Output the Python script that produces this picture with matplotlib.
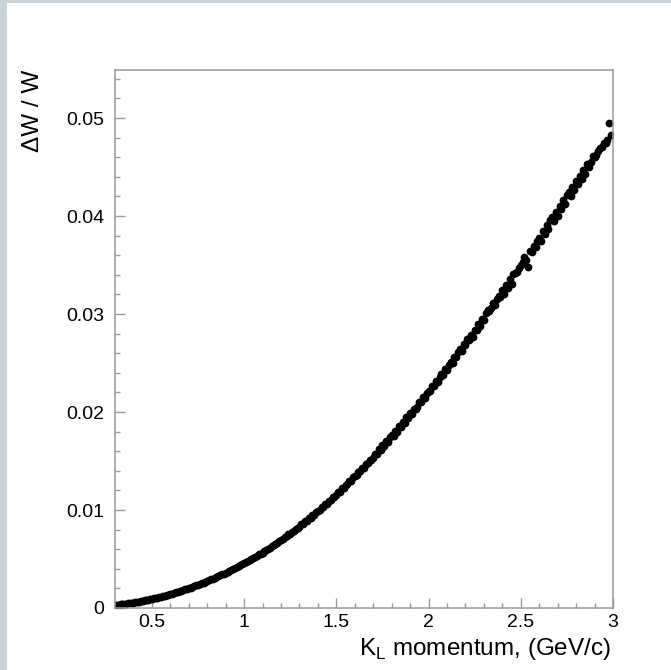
import matplotlib
matplotlib.use("Agg")
import matplotlib.pyplot as plt
from matplotlib.patches import Rectangle
from matplotlib.ticker import FixedLocator, MultipleLocator

# K_L momentum (GeV/c) and relative width dW/W
momentum = [
    0.30, 0.31, 0.32, 0.33, 0.34, 0.35, 0.36, 0.37, 0.38, 0.39,
    0.40, 0.41, 0.42, 0.43, 0.44, 0.45, 0.46, 0.47, 0.48, 0.49,
    0.50, 0.51, 0.52, 0.53, 0.54, 0.55, 0.56, 0.57, 0.58, 0.59,
    0.60, 0.61, 0.62, 0.63, 0.64, 0.65, 0.66, 0.67, 0.68, 0.69,
    0.70, 0.71, 0.72, 0.73, 0.74, 0.75, 0.76, 0.77, 0.78, 0.79,
    0.80, 0.81, 0.82, 0.83, 0.84, 0.85, 0.86, 0.87, 0.88, 0.89,
    0.90, 0.91, 0.92, 0.93, 0.94, 0.95, 0.96, 0.97, 0.98, 0.99,
    1.00, 1.01, 1.02, 1.03, 1.04, 1.05, 1.06, 1.07, 1.08, 1.09,
    1.10, 1.11, 1.12, 1.13, 1.14, 1.15, 1.16, 1.17, 1.18, 1.19,
    1.20, 1.21, 1.22, 1.23, 1.24, 1.25, 1.26, 1.27, 1.28, 1.29,
    1.30, 1.31, 1.32, 1.33, 1.34, 1.35, 1.36, 1.37, 1.38, 1.39,
    1.40, 1.41, 1.42, 1.43, 1.44, 1.45, 1.46, 1.47, 1.48, 1.49,
    1.50, 1.51, 1.52, 1.53, 1.54, 1.55, 1.56, 1.57, 1.58, 1.59,
    1.60, 1.61, 1.62, 1.63, 1.64, 1.65, 1.66, 1.67, 1.68, 1.69,
    1.70, 1.71, 1.72, 1.73, 1.74, 1.75, 1.76, 1.77, 1.78, 1.79,
    1.80, 1.81, 1.82, 1.83, 1.84, 1.85, 1.86, 1.87, 1.88, 1.89,
    1.90, 1.91, 1.92, 1.93, 1.94, 1.95, 1.96, 1.97, 1.98, 1.99,
    2.00, 2.01, 2.02, 2.03, 2.04, 2.05, 2.06, 2.07, 2.08, 2.09,
    2.10, 2.11, 2.12, 2.13, 2.14, 2.15, 2.16, 2.17, 2.18, 2.19,
    2.20, 2.21, 2.22, 2.23, 2.24, 2.25, 2.26, 2.27, 2.28, 2.29,
    2.30, 2.31, 2.32, 2.33, 2.34, 2.35, 2.36, 2.37, 2.38, 2.39,
    2.40, 2.41, 2.42, 2.43, 2.44, 2.45, 2.46, 2.47, 2.48, 2.49,
    2.50, 2.51, 2.52, 2.53, 2.54, 2.55, 2.56, 2.57, 2.58, 2.59,
    2.60, 2.61, 2.62, 2.63, 2.64, 2.65, 2.66, 2.67, 2.68, 2.69,
    2.70, 2.71, 2.72, 2.73, 2.74, 2.75, 2.76, 2.77, 2.78, 2.79,
    2.80, 2.81, 2.82, 2.83, 2.84, 2.85, 2.86, 2.87, 2.88, 2.89,
    2.90, 2.91, 2.92, 2.93, 2.94, 2.95, 2.96, 2.97, 2.98, 2.99,
]
dw_over_w = [
    0.00030, 0.00032, 0.00035, 0.00037, 0.00040, 0.00042, 0.00045, 0.00047, 0.00050, 0.00052,
    0.00055, 0.00059, 0.00062, 0.00066, 0.00070, 0.00074, 0.00077, 0.00081, 0.00085, 0.00088,
    0.00092, 0.00097, 0.00102, 0.00107, 0.00112, 0.00117, 0.00121, 0.00126, 0.00131, 0.00136,
    0.00141, 0.00147, 0.00153, 0.00159, 0.00165, 0.00172, 0.00178, 0.00184, 0.00190, 0.00196,
    0.00202, 0.00209, 0.00217, 0.00224, 0.00231, 0.00239, 0.00246, 0.00253, 0.00260, 0.00268,
    0.00275, 0.00284, 0.00292, 0.00301, 0.00309, 0.00318, 0.00326, 0.00335, 0.00343, 0.00352,
    0.00360, 0.00371, 0.00378, 0.00390, 0.00398, 0.00410, 0.00417, 0.00429, 0.00437, 0.00448,
    0.00457, 0.00466, 0.00480, 0.00489, 0.00503, 0.00511, 0.00524, 0.00533, 0.00547, 0.00555,
    0.00566, 0.00582, 0.00590, 0.00607, 0.00615, 0.00632, 0.00640, 0.00657, 0.00665, 0.00682,
    0.00694, 0.00703, 0.00723, 0.00731, 0.00751, 0.00758, 0.00779, 0.00787, 0.00808, 0.00815,
    0.00829, 0.00853, 0.00859, 0.00884, 0.00890, 0.00914, 0.00921, 0.00946, 0.00950, 0.00977,
    0.00992, 0.00998, 0.01028, 0.01032, 0.01061, 0.01066, 0.01095, 0.01099, 0.01130, 0.01134,
    0.01150, 0.01183, 0.01188, 0.01222, 0.01224, 0.01258, 0.01262, 0.01296, 0.01298, 0.01333,
    0.01350, 0.01355, 0.01392, 0.01395, 0.01432, 0.01433, 0.01472, 0.01475, 0.01512, 0.01514,
    0.01528, 0.01574, 0.01575, 0.01618, 0.01612, 0.01660, 0.01656, 0.01702, 0.01695, 0.01744,
    0.01762, 0.01758, 0.01810, 0.01800, 0.01856, 0.01845, 0.01900, 0.01890, 0.01945, 0.01935,
    0.01985, 0.01980, 0.02030, 0.02028, 0.02052, 0.02100, 0.02098, 0.02150, 0.02140, 0.02195,
    0.02215, 0.02218, 0.02270, 0.02262, 0.02315, 0.02310, 0.02360, 0.02385, 0.02380, 0.02438,
    0.02432, 0.02480, 0.02510, 0.02505, 0.02560, 0.02558, 0.02610, 0.02640, 0.02625, 0.02690,
    0.02680, 0.02745, 0.02730, 0.02790, 0.02770, 0.02840, 0.02835, 0.02900, 0.02880, 0.02950,
    0.02935, 0.03010, 0.03040, 0.03030, 0.03065, 0.03110, 0.03095, 0.03150, 0.03180, 0.03175,
    0.03250, 0.03205, 0.03300, 0.03270, 0.03355, 0.03310, 0.03405, 0.03420, 0.03430, 0.03465,
    0.03500, 0.03530, 0.03580, 0.03555, 0.03480, 0.03640, 0.03630, 0.03690, 0.03680, 0.03750,
    0.03775, 0.03740, 0.03850, 0.03820, 0.03905, 0.03870, 0.03960, 0.03990, 0.03950, 0.04040,
    0.04000, 0.04100, 0.04070, 0.04160, 0.04120, 0.04210, 0.04245, 0.04200, 0.04300, 0.04270,
    0.04360, 0.04330, 0.04410, 0.04380, 0.04470, 0.04430, 0.04530, 0.04500, 0.04550, 0.04610,
    0.04600, 0.04625, 0.04660, 0.04690, 0.04700, 0.04745, 0.04740, 0.04780, 0.04945, 0.04830,
]

x_ticks = [0.5, 1, 1.5, 2, 2.5, 3]
x_tick_labels = ["0.5", "1", "1.5", "2", "2.5", "3"]
y_ticks = [0, 0.01, 0.02, 0.03, 0.04, 0.05]
y_tick_labels = ["0", "0.01", "0.02", "0.03", "0.04", "0.05"]

plt.rcParams["font.family"] = ["Liberation Sans", "DejaVu Sans"]

fig = plt.figure(figsize=(6.71, 6.70), dpi=100)
fig.patch.set_facecolor("white")

# серо-голубая рамка слева и сверху
frame_color = "#c8d2d9"
fig.patches.append(Rectangle((0, 0), 7 / 671, 1, transform=fig.transFigure,
                             facecolor=frame_color, edgecolor="none", zorder=0))
fig.patches.append(Rectangle((0, 1 - 3 / 670), 1, 3 / 670, transform=fig.transFigure,
                             facecolor=frame_color, edgecolor="none", zorder=0))

ax = fig.add_axes([115 / 671, 1 - 608 / 670, (613 - 115) / 671, (608 - 70) / 670])

ax.plot(momentum, dw_over_w, "o", color="black", markersize=5.6,
        markeredgewidth=0, linestyle="none")

ax.set_xlim(0.3, 3.0)
ax.set_ylim(0, 0.0549)

ax.xaxis.set_major_locator(FixedLocator(x_ticks))
ax.set_xticklabels(x_tick_labels)
ax.xaxis.set_minor_locator(MultipleLocator(0.1))
ax.yaxis.set_major_locator(FixedLocator(y_ticks))
ax.set_yticklabels(y_tick_labels)
ax.yaxis.set_minor_locator(MultipleLocator(0.002))

spine_color = "#999999"
for s in ax.spines.values():
    s.set_color(spine_color)
    s.set_linewidth(1.1)

ax.tick_params(which="both", direction="in", color=spine_color, width=1.0,
               top=False, right=False, labelsize=14, labelcolor="black")
ax.tick_params(which="major", length=7.2)
ax.tick_params(which="minor", length=3.6)
ax.tick_params(axis="x", pad=4)
ax.tick_params(axis="y", pad=8)

fig.text(33 / 671, 1 - 70 / 670, "ΔW / W", rotation=90, fontsize=17.5,
         ha="center", va="top")
fig.text(611 / 671, 1 - 655 / 670, r"K$_{\mathregular{L}}$ momentum, (GeV/c)",
         fontsize=17.5, ha="right", va="baseline")

fig.savefig("out.png", dpi=100, facecolor=fig.get_facecolor())
